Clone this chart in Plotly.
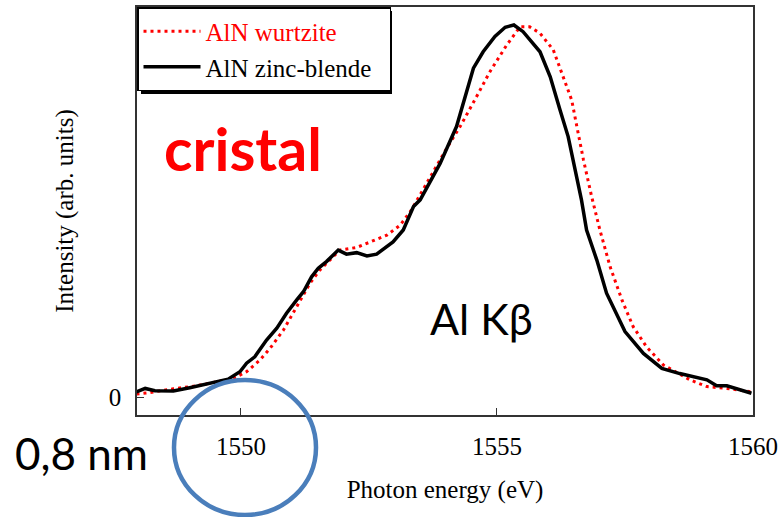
import plotly.graph_objects as go

# Photon energy (eV) and normalised intensity
zb_energy = [1547.96, 1548.13, 1548.32, 1548.68, 1549.00, 1549.39, 1549.75, 1549.98,
             1550.11, 1550.27, 1550.50, 1550.70, 1550.89, 1551.09, 1551.22, 1551.38,
             1551.51, 1551.67, 1551.90, 1552.06, 1552.26, 1552.46, 1552.65, 1552.97,
             1553.17, 1553.37, 1553.50, 1553.89, 1554.21, 1554.54, 1554.73, 1554.96,
             1555.16, 1555.33, 1555.51, 1555.84, 1556.04, 1556.23, 1556.39, 1556.65,
             1556.75, 1556.95, 1557.14, 1557.50, 1557.86, 1558.22, 1558.57, 1559.10,
             1559.29, 1559.49, 1559.75, 1559.97]
zb_intensity = [0.014, 0.023, 0.017, 0.016, 0.025, 0.037, 0.048, 0.068,
                0.091, 0.108, 0.153, 0.185, 0.225, 0.261, 0.283, 0.323,
                0.346, 0.364, 0.395, 0.384, 0.388, 0.379, 0.384, 0.417,
                0.449, 0.512, 0.530, 0.628, 0.727, 0.884, 0.928, 0.969,
                0.994, 1.000, 0.982, 0.928, 0.861, 0.772, 0.700, 0.530,
                0.449, 0.368, 0.279, 0.176, 0.117, 0.077, 0.063, 0.046,
                0.030, 0.030, 0.019, 0.010]

wz_energy = [1547.96, 1548.22, 1548.68, 1549.13, 1549.53, 1549.85, 1550.11, 1550.37,
             1550.57, 1550.83, 1551.09, 1551.35, 1551.54, 1551.74, 1551.93, 1552.26,
             1552.52, 1552.85, 1553.11, 1553.33, 1554.02, 1554.28, 1554.60, 1554.86,
             1555.19, 1555.45, 1555.64, 1555.84, 1556.10, 1556.29, 1556.46, 1556.56,
             1556.69, 1556.85, 1557.01, 1557.21, 1557.44, 1557.66, 1557.92, 1558.25,
             1558.77, 1559.10, 1559.49, 1559.97]
wz_intensity = [0.008, 0.012, 0.022, 0.030, 0.041, 0.050, 0.068, 0.099,
                0.131, 0.180, 0.243, 0.306, 0.341, 0.368, 0.395, 0.402,
                0.417, 0.435, 0.462, 0.503, 0.669, 0.727, 0.807, 0.874,
                0.946, 0.995, 0.995, 0.978, 0.933, 0.861, 0.798, 0.727,
                0.637, 0.538, 0.449, 0.350, 0.261, 0.189, 0.135, 0.086,
                0.046, 0.028, 0.023, 0.014]

x_ticks = [1550, 1555, 1560]
y_ticks = [0]

SERIF = "Liberation Serif"
SANS = "Lato"

fig = go.Figure()
fig.add_trace(go.Scatter(x=wz_energy, y=wz_intensity, mode="lines",
                         name="<span style='color:#FF0000'>AlN wurtzite</span>",
                         line=dict(color="#FF0000", width=3, dash="3px,4px")))
fig.add_trace(go.Scatter(x=zb_energy, y=zb_intensity, mode="lines",
                         name="AlN zinc-blende\u00a0\u00a0",
                         line=dict(color="#000000", width=3.5)))

W, H = 784, 517
L, R, T, B = 137, 31, 7, 102
pw, ph = W - L - R, H - T - B

def px(xp):
    return (xp - L) / pw

def py(yp):
    return (H - B - yp) / ph

fig.update_layout(
    width=W, height=H,
    margin=dict(l=L, r=R, t=T, b=B, autoexpand=False),
    paper_bgcolor="white", plot_bgcolor="white",
    font=dict(family=SERIF),
    showlegend=True,
    legend=dict(x=0, y=1, xanchor="left", yanchor="top", bgcolor="white",
                bordercolor="black", borderwidth=1.5,
                font=dict(family=SERIF, size=25, color="black"),
                tracegroupgap=0, itemwidth=57),
    xaxis=dict(range=[1547.97, 1560.0], tickvals=x_ticks, ticks="inside", ticklen=7,
               tickwidth=1.2, tickcolor="#333",
               showline=True, mirror=True, linecolor="#333", linewidth=1.5,
               showgrid=False, zeroline=False,
               tickfont=dict(family=SERIF, size=25, color="black"),
               ticklabelstandoff=8,
               title=dict(text="Photon energy (eV)", font=dict(family=SERIF, size=25, color="black"),
                          standoff=22)),
    yaxis=dict(range=[-0.0484, 1.0484], tickvals=y_ticks, ticks="inside", ticklen=7,
               tickwidth=1.2, tickcolor="#333",
               showline=True, mirror=True, linecolor="#333", linewidth=1.5,
               showgrid=False, zeroline=False,
               tickfont=dict(family=SERIF, size=25, color="black"),
               ticklabelstandoff=9,
               title=dict(text="Intensity (arb. units)", font=dict(family=SERIF, size=25, color="black"),
                          standoff=28)),
)

# legend shadow
fig.add_shape(type="rect", xref="paper", yref="paper",
              x0=px(141), x1=px(392), y0=py(94), y1=py(11),
              fillcolor="black", line=dict(width=0), layer="above")

# blue circle
fig.add_shape(type="circle", xref="paper", yref="paper",
              x0=px(174), x1=px(316), y0=py(515), y1=py(380),
              line=dict(color="#4A7EBB", width=4.5), layer="above")

fig.add_annotation(text="<b>cristal</b>", xref="paper", yref="paper",
                   x=px(243), y=py(148), xanchor="center", yanchor="middle", showarrow=False,
                   font=dict(family=SANS, size=59, color="#FF0000"))
fig.add_annotation(text="Al Kβ", xref="paper", yref="paper",
                   x=px(481), y=py(318), xanchor="center", yanchor="middle", showarrow=False,
                   font=dict(family=SANS, size=43, color="black"))
fig.add_annotation(text="0,8 nm", xref="paper", yref="paper",
                   x=px(81), y=py(453), xanchor="center", yanchor="middle", showarrow=False,
                   font=dict(family=SANS, size=44, color="black"))

fig.write_html("out.html")
